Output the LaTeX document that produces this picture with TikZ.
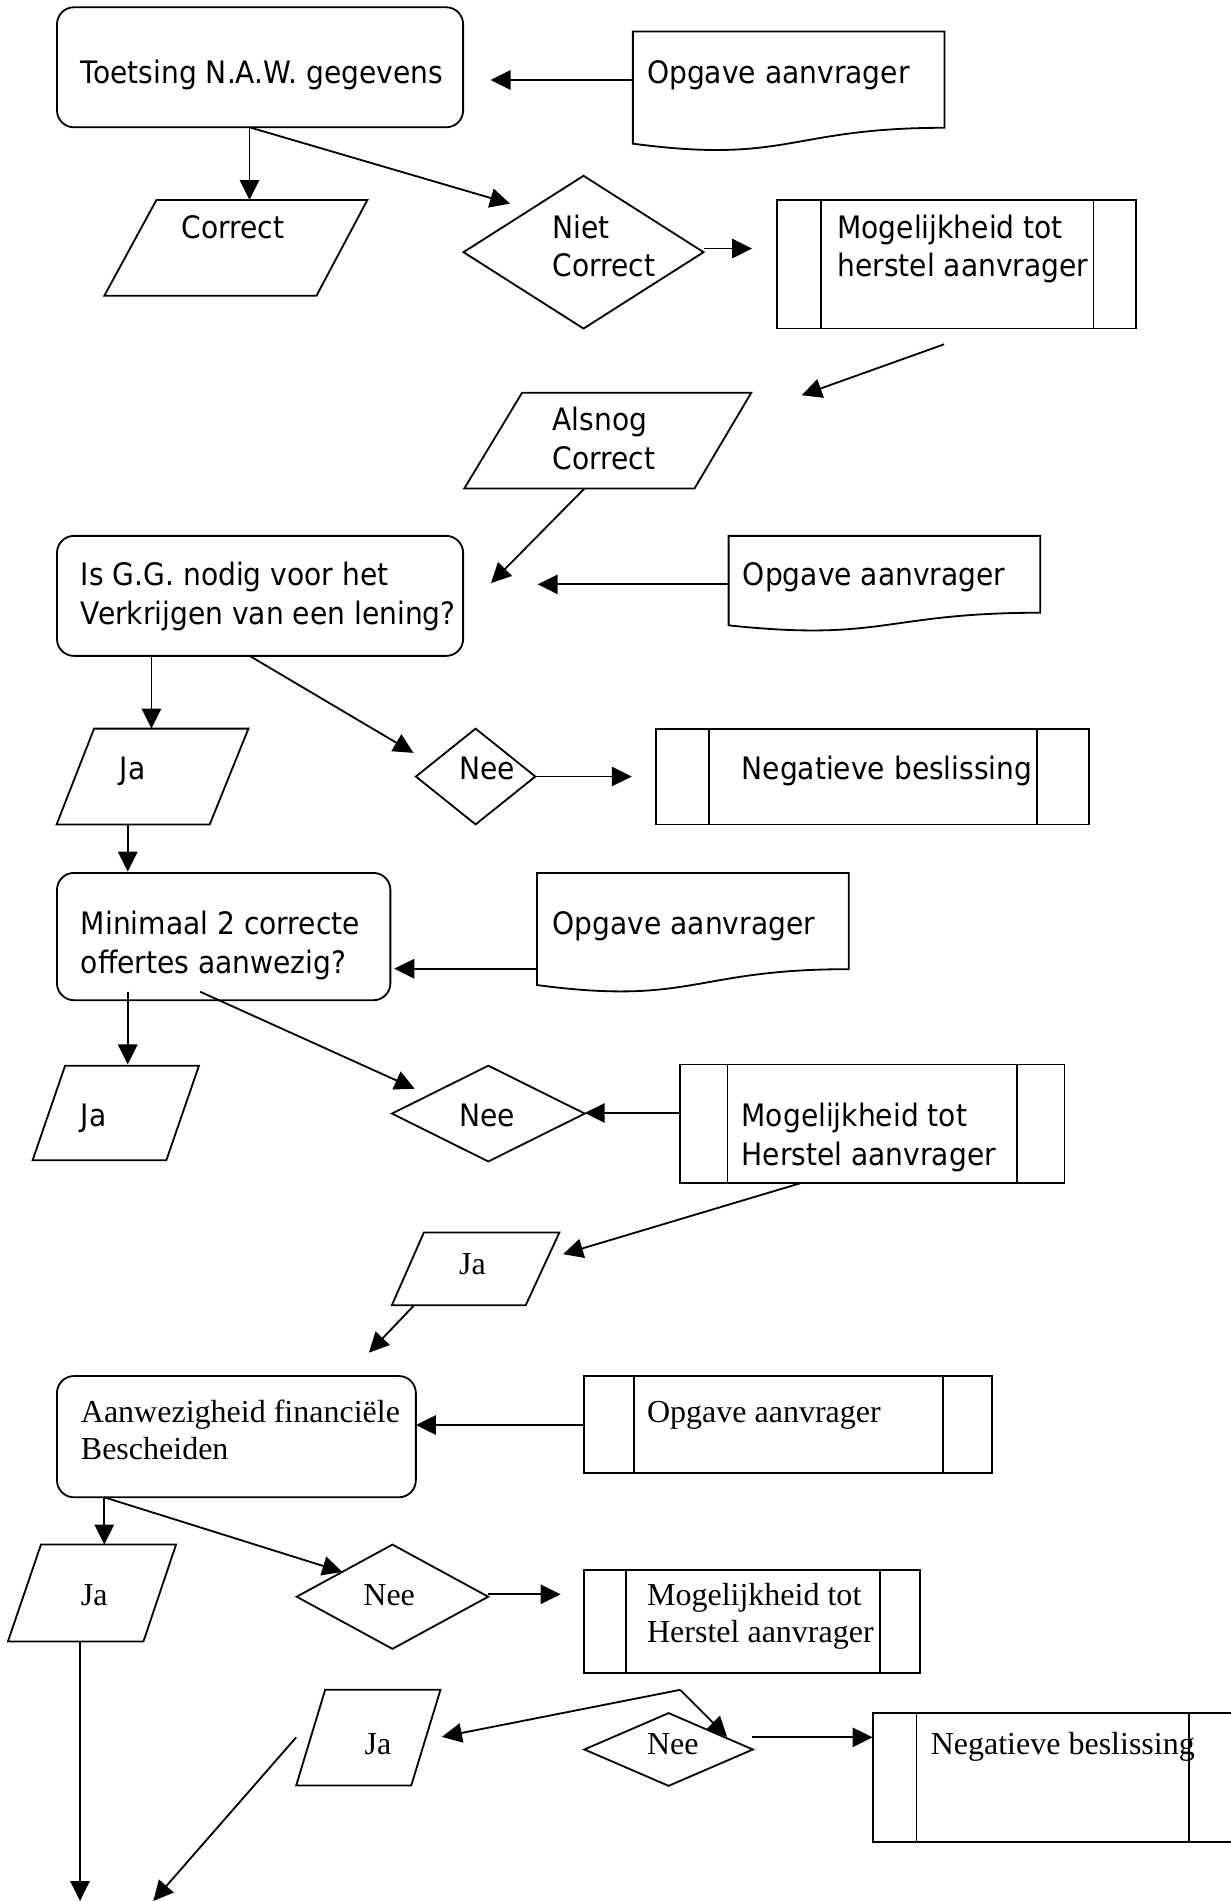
\documentclass[tikz,border=0pt]{standalone}
\usepackage{fontspec}
\setmainfont{Liberation Serif}
\newfontfamily\tahfont{DejaVu Sans}[FakeStretch=0.91]
\usetikzlibrary{shapes.geometric,arrows.meta,calc}
\begin{document}
\begin{tikzpicture}[x=1pt,y=-1pt, line width=1.5pt, line join=miter,
  arr/.style={-{Triangle[length=16.5pt,width=16pt]}},
  rrect/.style={draw, rectangle, rounded corners=14pt, inner sep=0pt, outer sep=0pt},
  box/.style={draw, rectangle, inner sep=0pt, outer sep=0pt},
  ghost/.style={rectangle, inner sep=0pt, outer sep=0pt},
  dia/.style={draw, diamond, inner sep=0pt, outer sep=0pt},
  ts/.style={anchor=base west, inner sep=0pt, font=\tahfont\fontsize{25.5}{32}\selectfont},
  tr/.style={anchor=base west, inner sep=0pt, font=\rmfamily\fontsize{26.4}{31}\selectfont},
]
\useasboundingbox (0,0) rectangle (1015,1568);

% ---------------- rounded rectangles ----------------
\node[rrect, minimum width=335pt, minimum height=99pt] (r1) at (214.5,55.5) {};
\node[rrect, minimum width=335pt, minimum height=99pt] (r2) at (214.5,491.5) {};
\node[rrect, minimum width=275pt, minimum height=105pt] (r3) at (184.5,772.5) {};
\node[rrect, minimum width=296pt, minimum height=100pt] (r4) at (195,1185) {};

% ---------------- diamonds ----------------
\node[dia, minimum width=198pt, minimum height=126pt] (d1) at (481.3,208) {};
\node[dia, minimum width=98.5pt, minimum height=79pt] (d2) at (392.3,640.5) {};
\node[dia, minimum width=159pt, minimum height=79pt] (d3) at (402.8,918.5) {};
\node[dia, minimum width=158pt, minimum height=86pt] (d4) at (323.7,1317) {};
\node[dia, minimum width=139pt, minimum height=60pt] (d5) at (551.5,1443) {};

% ---------------- predefined process boxes ----------------
\node[box, minimum width=296pt, minimum height=106pt] (b1) at (789,218) {};
\draw ([xshift=36pt]b1.north west) -- ([xshift=36pt]b1.south west);
\draw ([xshift=-35pt]b1.north east) -- ([xshift=-35pt]b1.south east);
\node[box, minimum width=357pt, minimum height=79pt] (b2) at (719.5,640.5) {};
\draw ([xshift=44pt]b2.north west) -- ([xshift=44pt]b2.south west);
\draw ([xshift=-43pt]b2.north east) -- ([xshift=-43pt]b2.south east);
\node[box, minimum width=317pt, minimum height=98pt] (b3) at (719.5,927) {};
\draw ([xshift=39pt]b3.north west) -- ([xshift=39pt]b3.south west);
\draw ([xshift=-39pt]b3.north east) -- ([xshift=-39pt]b3.south east);
\node[box, minimum width=336pt, minimum height=80pt] (b4) at (650,1175) {};
\draw ([xshift=41pt]b4.north west) -- ([xshift=41pt]b4.south west);
\draw ([xshift=-40pt]b4.north east) -- ([xshift=-40pt]b4.south east);
\node[box, minimum width=277pt, minimum height=85pt] (b5) at (620.5,1337.5) {};
\draw ([xshift=34pt]b5.north west) -- ([xshift=34pt]b5.south west);
\draw ([xshift=-33pt]b5.north east) -- ([xshift=-33pt]b5.south east);
\node[box, minimum width=297pt, minimum height=106pt] (b6) at (868.5,1466) {};
\draw ([xshift=36pt]b6.north west) -- ([xshift=36pt]b6.south west);
\draw ([xshift=-36pt]b6.north east) -- ([xshift=-36pt]b6.south east);

% ---------------- documents ----------------
\node[ghost, minimum width=257pt, minimum height=79.4pt] (o1) at (650.5,65.7) {};
\draw (522,118.5) -- (522,26) -- (779,26) -- (779,105.4)
  .. controls (650.5,105.4) and (650.5,135.6) .. (522,118.5) -- cycle;
\node[ghost, minimum width=257pt, minimum height=63.4pt] (o2) at (729.5,473.7) {};
\draw (601,515.8) -- (601,442) -- (858,442) -- (858,505.4)
  .. controls (729.5,505.4) and (729.5,529.5) .. (601,515.8) -- cycle;
\node[ghost, minimum width=257pt, minimum height=79.4pt] (o3) at (571.5,759.7) {};
\draw (443,812.5) -- (443,720) -- (700,720) -- (700,799.4)
  .. controls (571.5,799.4) and (571.5,829.6) .. (443,812.5) -- cycle;

% ---------------- parallelograms ----------------
\draw (129,165) -- (303,165) -- (261,244) -- (86,244) -- cycle;
\coordinate (p1) at (194.5,204.5);
\draw (430.6,324) -- (619.6,324) -- (572.8,403) -- (382.9,403) -- cycle;
\coordinate (p2) at (501.2,363.5);
\draw (77.6,601) -- (204.9,601) -- (173,680) -- (46.7,680) -- cycle;
\coordinate (p3) at (125.5,640.5);
\draw (53.7,879) -- (164.1,879) -- (137.2,957) -- (26.9,957) -- cycle;
\coordinate (p4) at (95.5,918);
\draw (349.6,1016.6) -- (461.4,1016.6) -- (433.6,1076.6) -- (323.2,1076.6) -- cycle;
\coordinate (p5) at (392,1046.6);
\draw (33.8,1274) -- (145.2,1274) -- (118.3,1354) -- (6.5,1354) -- cycle;
\coordinate (p6) at (75.9,1314);
\draw (268.2,1393.8) -- (363.3,1393.8) -- (339.2,1472.7) -- (244.3,1472.7) -- cycle;
\coordinate (p7) at (303.7,1433);

% ---------------- texts ----------------
\node[ts] (t1) at (66,69) {Toetsing N.A.W. gegevens};
\node[ts] (t2) at (533,69) {Opgave aanvrager};
\node[ts] (t3) at (149,197) {Correct};
\node[ts] (t4a) at (455,197) {Niet};
\node[ts] (t4b) at (455,228) {Correct};
\node[ts] (t5a) at (690,197) {Mogelijkheid tot};
\node[ts] (t5b) at (690,228) {herstel aanvrager};
\node[ts] (t6a) at (455,355) {Alsnog};
\node[ts] (t6b) at (455,387) {Correct};
\node[ts] (t7a) at (66,483) {Is G.G. nodig voor het};
\node[ts] (t7b) at (66,515) {Verkrijgen van een lening?};
\node[ts] (t8) at (612,483) {Opgave aanvrager};
\node[ts] (t9) at (98,643) {Ja};
\node[ts] (t10) at (378,643) {Nee};
\node[ts] (t11) at (611,643) {Negatieve beslissing};
\node[ts] (t12a) at (66,771) {Minimaal 2 correcte};
\node[ts] (t12b) at (66,803) {offertes aanwezig?};
\node[ts] (t13) at (455,771) {Opgave aanvrager};
\node[ts] (t14) at (66,929) {Ja};
\node[ts] (t15) at (378,929) {Nee};
\node[ts] (t16a) at (611,929) {Mogelijkheid tot};
\node[ts] (t16b) at (611,961) {Herstel aanvrager};

\node[tr] (t17) at (378,1051) {Ja};
\node[tr] (t18a) at (66,1173) {Aanwezigheid financiële};
\node[tr] (t18b) at (66,1204) {Bescheiden};
\node[tr] (t19) at (533,1173) {Opgave aanvrager};
\node[tr] (t20) at (66,1324) {Ja};
\node[tr] (t21) at (299,1324) {Nee};
\node[tr] (t22a) at (533,1324) {Mogelijkheid tot};
\node[tr] (t22b) at (533,1355) {Herstel aanvrager};
\node[tr] (t23) at (300,1447) {Ja};
\node[tr] (t24) at (533,1447) {Nee};
\node[tr] (t25) at (767,1447) {Negatieve beslissing};

% ---------------- connector end points ----------------
\coordinate (c1s) at (522,66);      \coordinate (c1e) at (404.6,66);
\coordinate (c2s) at (205.8,105);   \coordinate (c2e) at (205.8,165);
\coordinate (c3e) at (420.7,168);
\coordinate (c4s) at (580.8,205);   \coordinate (c4e) at (620.3,205);
\coordinate (c5s) at (778.7,284);   \coordinate (c5e) at (661.3,326);
\coordinate (c6s) at (482,403);     \coordinate (c6e) at (405,481);
\coordinate (c7s) at (601,482);     \coordinate (c7e) at (443.5,482);
\coordinate (c8s) at (124.9,541);   \coordinate (c8e) at (124.9,601);
\coordinate (c9s) at (205.9,541);   \coordinate (c9e) at (341.1,621);
\coordinate (c10s) at (441.6,640.5);\coordinate (c10e) at (521.1,640.5);
\coordinate (c11s) at (105.4,680);  \coordinate (c11e) at (105.4,719);
\coordinate (c12s) at (443,799);    \coordinate (c12e) at (325.2,799);
\coordinate (c13s) at (105.4,818);  \coordinate (c13e) at (105.4,878);
\coordinate (c14s) at (165.1,818);  \coordinate (c14e) at (342.1,898);
\coordinate (c15s) at (561,918);    \coordinate (c15e) at (482.3,918);
\coordinate (c16s) at (660,976);    \coordinate (c16e) at (464.4,1034.5);
\coordinate (c17s) at (341.6,1076.6);\coordinate (c17e) at (304.3,1115.7);
\coordinate (c18s) at (482,1175.4); \coordinate (c18e) at (343.1,1175.4);
\coordinate (c19s) at (86,1235);    \coordinate (c19e) at (86,1274);
\coordinate (c20e) at (282.4,1296.6);
\coordinate (c21s) at (402.8,1315); \coordinate (c21e) at (462.4,1315);
\coordinate (apex) at (561.1,1393.8);
\coordinate (c22e) at (364.5,1432.6);
\coordinate (c23e) at (599.7,1432.6);
\coordinate (c24s) at (620.3,1433); \coordinate (c24e) at (719.7,1433);
\coordinate (c25s) at (66,1354);    \coordinate (c25e) at (66,1568);
\coordinate (c26s) at (244.3,1433); \coordinate (c26e) at (126.4,1568);

% ---------------- connectors ----------------
\draw[arr] (c1s) -- (c1e);
\draw[arr] (c2s) -- (c2e);
\draw[arr] (c2s) -- (c3e);
\draw[arr] (c4s) -- (c4e);
\draw[arr] (c5s) -- (c5e);
\draw[arr] (c6s) -- (c6e);
\draw[arr] (c7s) -- (c7e);
\draw[arr] (c8s) -- (c8e);
\draw[arr] (c9s) -- (c9e);
\draw[arr] (c10s) -- (c10e);
\draw[arr] (c11s) -- (c11e);
\draw[arr] (c12s) -- (c12e);
\draw[arr] (c13s) -- (c13e);
\draw[arr] (c14s) -- (c14e);
\draw[arr] (c15s) -- (c15e);
\draw[arr] (c16s) -- (c16e);
\draw[arr] (c17s) -- (c17e);
\draw[arr] (c18s) -- (c18e);
\draw[arr] (c19s) -- (c19e);
\draw[arr] (c19s) -- (c20e);
\draw[arr] (c21s) -- (c21e);
\draw[arr] (apex) -- (c22e);
\draw[arr] (apex) -- (c23e);
\draw[arr] (c24s) -- (c24e);
\draw[arr] (c25s) -- (c25e);
\draw[arr] (c26s) -- (c26e);
\end{tikzpicture}
\end{document}
